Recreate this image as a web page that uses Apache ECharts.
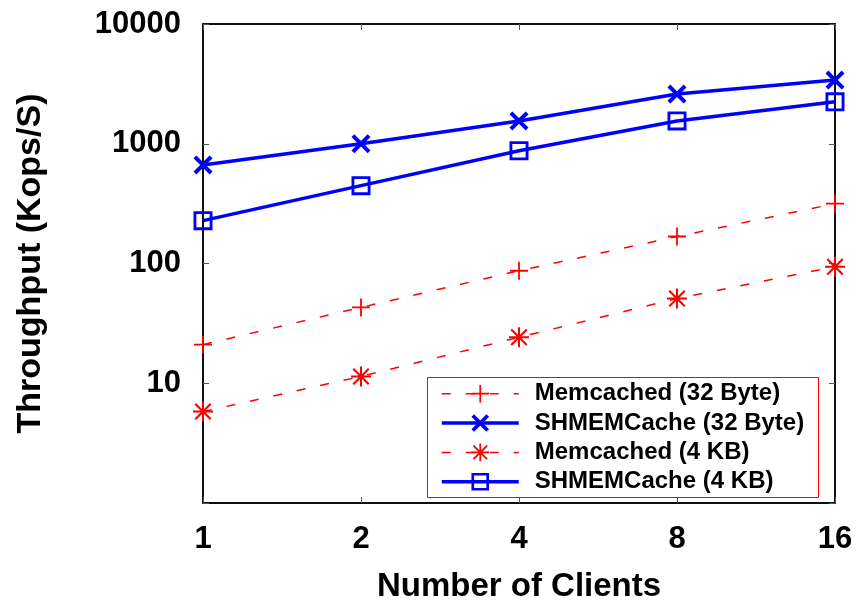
<!DOCTYPE html>
<html>
<head>
	<title></title>
	<script src="https://cdn.jsdelivr.net/npm/echarts@6/dist/echarts.min.js"></script>
	<style>
	html, body{
		margin: 0;
		padding: 0;
		background: #ffffff;
	}
	#main{
		width: 861px;
		height: 600px;
	}
	</style>
</head>
<body>
	<div id="main"></div>
	<script>
		var myChart = echarts.init(document.getElementById('main'));

		// data
		var clients = ['1', '2', '4', '8', '16'];
		var memcached32 = [21, 43, 87, 168, 316];
		var shmem32 = [665, 1000, 1550, 2600, 3400];
		var memcached4k = [5.8, 11.4, 24.2, 51, 94];
		var shmem4k = [228, 447, 874, 1550, 2240];

		var FONT = 'Liberation Sans';

		// marker shapes
		var plusPath = 'path://M-1,-10 L1,-10 L1,-1 L10,-1 L10,1 L1,1 L1,10 L-1,10 L-1,1 L-10,1 L-10,-1 L-1,-1 Z';
		var crossPath = 'path://M-10,-7 L-7,-10 L0,-3 L7,-10 L10,-7 L3,0 L10,7 L7,10 L0,3 L-7,10 L-10,7 L-3,0 Z';
		var starPath = 'path://M-1,-10 L1,-10 L1,-1 L10,-1 L10,1 L1,1 L1,10 L-1,10 L-1,1 L-10,1 L-10,-1 L-1,-1 Z ' +
			'M-8.5,-7 L-7,-8.5 L0,-1.5 L7,-8.5 L8.5,-7 L1.5,0 L8.5,7 L7,8.5 L0,1.5 L-7,8.5 L-8.5,7 L-1.5,0 Z';
		var boxPath = 'path://M-10,-10 L10,-10 L10,10 L-10,10 Z M-7,-7 L-7,7 L7,7 L7,-7 Z';

		var tickStyle = { show: true, inside: true, length: 6, lineStyle: { color: '#555', width: 1 } };
		var redDash = { width: 1.5, type: [9, 15], color: '#ff0000' };
		var blueSolid = { width: 3.5, type: 'solid', color: '#0000ff' };

		option = {
		    backgroundColor: '#ffffff',
		    animation: false,
		    grid: {
		        left: 203,
		        right: 26,
		        top: 24,
		        bottom: 97,
		        outerBoundsMode: 'none',
		        show: true,
		        borderColor: '#000',
		        borderWidth: 1.5
		    },
		    // red frame behind the legend
		    graphic: [{
		        type: 'rect',
		        left: 427,
		        top: 377,
		        z: 3,
		        shape: { width: 391, height: 120 },
		        style: { fill: '#ffffff', stroke: '#ff0000', lineWidth: 1 }
		    }],
		    legend: {
		        orient: 'vertical',
		        left: 427,
		        top: 369,
		        z: 5,
		        itemWidth: 77,
		        itemHeight: 22,
		        itemGap: -12,
		        padding: [4, 10, 4, 13],
		        borderWidth: 0,
		        backgroundColor: 'transparent',
		        formatter: '{g|}{t|{name}}',
		        textStyle: {
		            fontFamily: FONT,
		            fontWeight: 'bold',
		            fontSize: 24,
		            color: '#000',
		            rich: {
		                g: { width: 11, height: 2 },
		                t: {
		                    fontFamily: FONT,
		                    fontWeight: 'bold',
		                    fontSize: 24,
		                    color: '#000'
		                }
		            }
		        },
		        data: [
		            { name: 'Memcached (32 Byte)', lineStyle: redDash },
		            { name: 'SHMEMCache (32 Byte)', lineStyle: blueSolid },
		            { name: 'Memcached (4 KB)', lineStyle: redDash },
		            { name: 'SHMEMCache (4 KB)', lineStyle: blueSolid }
		        ]
		    },
		    xAxis: [{
		        type: 'category',
		        data: clients,
		        boundaryGap: false,
		        name: 'Number of Clients',
		        nameLocation: 'middle',
		        nameGap: 55,
		        nameMoveOverlap: false,
		        nameTextStyle: { fontFamily: FONT, fontWeight: 'bold', fontSize: 33, color: '#000' },
		        axisLine: { lineStyle: { color: '#000', width: 1.5 } },
		        axisTick: tickStyle,
		        axisLabel: { fontFamily: FONT, fontWeight: 'bold', fontSize: 31, color: '#000', margin: 10 }
		    }, {
		        type: 'category',
		        data: clients,
		        boundaryGap: false,
		        position: 'top',
		        axisLine: { lineStyle: { color: '#000', width: 1.5 } },
		        axisTick: tickStyle,
		        axisLabel: { show: false }
		    }],
		    yAxis: [{
		        type: 'log',
		        logBase: 10,
		        min: 1,
		        max: 10000,
		        name: 'Throughput (Kops/S)',
		        nameLocation: 'middle',
		        nameGap: 143,
		        nameTextStyle: { fontFamily: FONT, fontWeight: 'bold', fontSize: 34, color: '#000' },
		        axisLine: { show: true, lineStyle: { color: '#000', width: 1.5 } },
		        axisTick: tickStyle,
		        splitLine: { show: false },
		        axisLabel: {
		            fontFamily: FONT, fontWeight: 'bold', fontSize: 31, color: '#000', margin: 22,
		            formatter: function (v) { return v === 1 ? '' : v; }
		        }
		    }, {
		        type: 'log',
		        logBase: 10,
		        min: 1,
		        max: 10000,
		        position: 'right',
		        axisLine: { show: true, lineStyle: { color: '#000', width: 1.5 } },
		        axisTick: tickStyle,
		        splitLine: { show: false },
		        axisLabel: { show: false }
		    }],
		    series: [{
		        name: 'Memcached (32 Byte)',
		        type: 'line',
		        data: memcached32,
		        color: '#ff0000',
		        symbol: plusPath,
		        symbolSize: 18,
		        lineStyle: redDash,
		        itemStyle: { color: '#ff0000' }
		    }, {
		        name: 'SHMEMCache (32 Byte)',
		        type: 'line',
		        data: shmem32,
		        color: '#0000ff',
		        symbol: crossPath,
		        symbolSize: 19,
		        lineStyle: blueSolid,
		        itemStyle: { color: '#0000ff' }
		    }, {
		        name: 'Memcached (4 KB)',
		        type: 'line',
		        data: memcached4k,
		        color: '#ff0000',
		        symbol: starPath,
		        symbolSize: 20,
		        lineStyle: redDash,
		        itemStyle: { color: '#ff0000' }
		    }, {
		        name: 'SHMEMCache (4 KB)',
		        type: 'line',
		        data: shmem4k,
		        color: '#0000ff',
		        symbol: boxPath,
		        symbolSize: 19,
		        lineStyle: blueSolid,
		        itemStyle: { color: '#0000ff' }
		    }]
		};
		myChart.setOption(option);
	</script>
</body>
</html>
